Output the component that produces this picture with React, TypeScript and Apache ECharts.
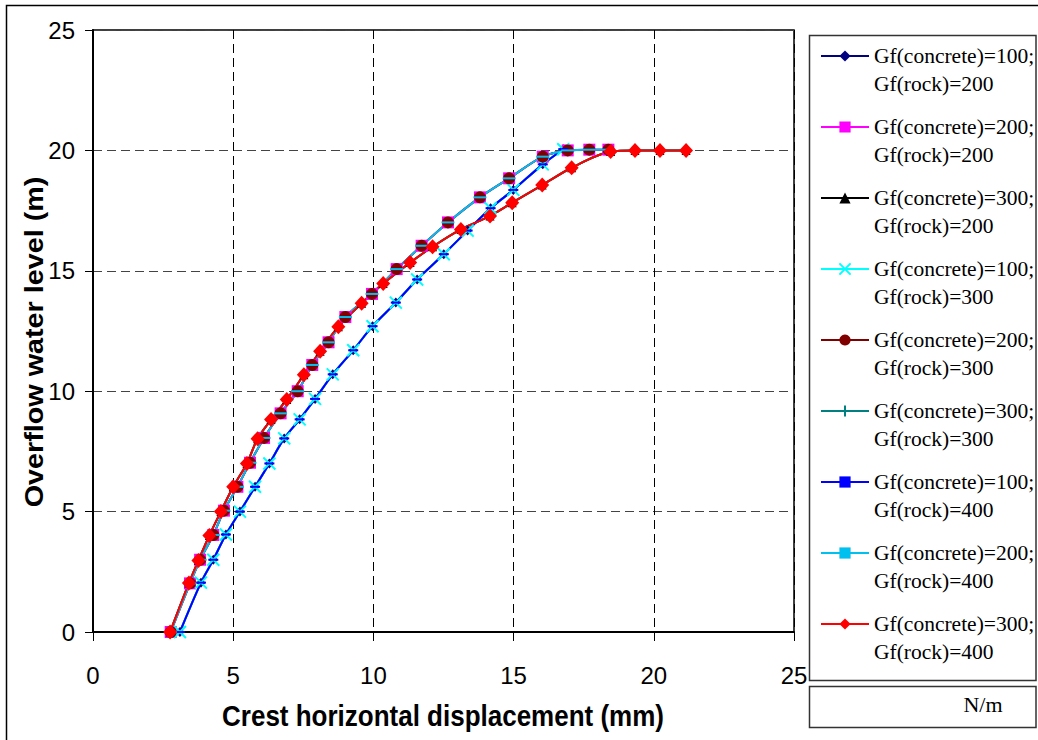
import React, { useEffect, useRef } from "react";
import * as echarts from "echarts";

// Group Gf(concrete)=100 (rock 200 / 300 / 400 curves coincide)
const dispC100 = [3.1, 3.85, 4.29, 4.74, 5.24, 5.78, 6.29, 6.82, 7.37, 7.92, 8.55, 9.28, 9.97, 10.8, 11.56, 12.51, 13.36, 14.18, 14.99, 16.04, 16.77];
const levelC100 = [0, 2.05, 3, 4.05, 5, 6.03, 7, 8.04, 8.83, 9.68, 10.7, 11.7, 12.7, 13.68, 14.64, 15.69, 16.67, 17.6, 18.36, 19.42, 20.05];

// Group Gf(concrete)=200
const dispC200 = [2.77, 3.46, 3.82, 4.29, 4.67, 5.15, 5.6, 6.1, 6.69, 7.3, 7.82, 8.4, 9.0, 9.95, 10.83, 11.72, 12.66, 13.8, 14.84, 16.04, 16.93, 17.7, 18.38];
const levelC200 = [0, 2.02, 3, 4.03, 5.04, 6.03, 7.03, 8.06, 9.08, 10, 11.09, 12.03, 13.08, 14.04, 15.07, 16.04, 17.01, 18.05, 18.84, 19.74, 20, 20.03, 20.03];

// Group Gf(concrete)=300
const dispC300 = [2.75, 3.42, 3.76, 4.15, 4.56, 5.0, 5.49, 5.87, 6.35, 6.91, 7.52, 8.1, 8.75, 9.58, 10.35, 11.31, 12.11, 13.12, 14.16, 14.95, 16.02, 17.07, 18.46, 19.33, 20.22, 21.15];
const levelC300 = [0, 2.03, 2.97, 4.01, 5.0, 6.03, 7.0, 8.03, 8.82, 9.66, 10.68, 11.66, 12.68, 13.65, 14.47, 15.34, 16.0, 16.72, 17.28, 17.83, 18.56, 19.28, 19.95, 20, 20, 20];

const seriesNames = [
  "Gf(concrete)=100; Gf(rock)=200",
  "Gf(concrete)=200; Gf(rock)=200",
  "Gf(concrete)=300; Gf(rock)=200",
  "Gf(concrete)=100; Gf(rock)=300",
  "Gf(concrete)=200; Gf(rock)=300",
  "Gf(concrete)=300; Gf(rock)=300",
  "Gf(concrete)=100; Gf(rock)=400",
  "Gf(concrete)=200; Gf(rock)=400",
  "Gf(concrete)=300; Gf(rock)=400",
];

const axisTicks = [0, 5, 10, 15, 20, 25];

const X_PATH = "path://M0,0L10,10M10,0L0,10";
const PLUS_PATH = "path://M5,0L5,10M0,5L10,5";
const DASH_PATH = "path://M0,0H10V4H0Z";

function pairs(xs: number[], ys: number[]) {
  return xs.map((x, i) => [x, ys[i]]);
}

export default function App() {
  const ref = useRef<HTMLDivElement>(null);

  useEffect(() => {
    if (!ref.current) return;
    const chart = echarts.init(ref.current, null, { renderer: "svg" });

    const styles: any[] = [
      { data: pairs(dispC100, levelC100), color: "#000080", symbol: "diamond", size: [9, 10] },
      { data: pairs(dispC200, levelC200), color: "#FF00FF", symbol: "rect", size: 12 },
      { data: pairs(dispC300, levelC300), color: "#000000", symbol: "triangle", size: 9 },
      { data: pairs(dispC100, levelC100), color: "#00FFFF", symbol: X_PATH, size: 12, stroke: true },
      { data: pairs(dispC200, levelC200), color: "#800000", symbol: "circle", size: 12 },
      { data: pairs(dispC300, levelC300), color: "#008080", symbol: PLUS_PATH, size: 11, stroke: true },
      { data: pairs(dispC100, levelC100), color: "#0000FF", symbol: DASH_PATH, size: [10, 5] },
      { data: pairs(dispC200, levelC200), color: "#00C0F0", symbol: DASH_PATH, size: [13, 5] },
      { data: pairs(dispC300, levelC300), color: "#FF0000", symbol: "diamond", size: [14, 15] },
    ];

    const series = styles.map((s, i) => ({
      type: "line",
      name: seriesNames[i],
      data: s.data,
      smooth: 0.3,
      symbol: s.symbol,
      symbolSize: s.size,
      symbolKeepAspect: true,
      showAllSymbol: true,
      lineStyle: { color: s.color, width: 2 },
      itemStyle: s.stroke
        ? { color: s.color, borderColor: s.color, borderWidth: 2 }
        : { color: s.color, borderWidth: 0 },
      emphasis: { disabled: true },
    }));

    const labelFont = { fontFamily: "Liberation Sans", fontSize: 24, color: "#000" };

    chart.setOption({
      animation: false,
      backgroundColor: "#fff",
      grid: {
        left: 93,
        top: 30,
        right: 244,
        bottom: 108,
        show: true,
        borderColor: "#000",
        borderWidth: 1.5,
        backgroundColor: "transparent",
      },
      xAxis: {
        type: "value",
        min: axisTicks[0],
        max: axisTicks[axisTicks.length - 1],
        interval: 5,
        axisLine: { show: true, onZero: false, lineStyle: { color: "#000", width: 2 } },
        axisTick: { show: true, inside: false, length: 9, lineStyle: { color: "#000", width: 1 } },
        axisLabel: { ...labelFont, margin: 31, showMaxLabel: true, showMinLabel: true },
        splitLine: { show: true, lineStyle: { color: "#000", width: 1, type: [9, 5] } },
      },
      yAxis: {
        type: "value",
        min: axisTicks[0],
        max: axisTicks[axisTicks.length - 1],
        interval: 5,
        axisLine: { show: true, onZero: false, lineStyle: { color: "#000", width: 2 } },
        axisTick: { show: true, inside: false, length: 8, lineStyle: { color: "#000", width: 1 } },
        axisLabel: { ...labelFont, margin: 18 },
        splitLine: { show: true, lineStyle: { color: "#444", width: 1, type: [9, 5] } },
      },
      legend: {
        orient: "vertical",
        left: 820,
        top: 14,
        padding: 0,
        itemWidth: 48,
        itemHeight: 14,
        itemGap: -13,
        selectedMode: false,
        data: seriesNames,
        formatter: (name: string) => "\n" + name.replace("; ", ";\n"),
        textStyle: {
          fontFamily: "Liberation Serif",
          fontSize: 21.5,
          lineHeight: 28,
          color: "#000",
        },
      },
      graphic: [
        {
          type: "rect",
          z: -10,
          shape: { x: 6.5, y: 5.5, width: 1040, height: 740 },
          style: { fill: "none", stroke: "#000", lineWidth: 1.5 },
        },
        {
          type: "rect",
          shape: { x: 809.5, y: 35.5, width: 226.5, height: 645 },
          style: { fill: "none", stroke: "#333", lineWidth: 1.5 },
        },
        {
          type: "rect",
          shape: { x: 809.5, y: 686.5, width: 226.5, height: 41 },
          style: { fill: "none", stroke: "#333", lineWidth: 1.5 },
        },
        {
          type: "text",
          x: 983,
          y: 704,
          style: {
            text: "N/m",
            fontFamily: "Liberation Serif",
            fontSize: 22,
            fill: "#000",
            align: "center",
            verticalAlign: "middle",
          },
        },
        {
          type: "text",
          x: 443,
          y: 716,
          scaleY: 1.12,
          style: {
            text: "Crest horizontal displacement (mm)",
            fontFamily: "Liberation Sans",
            fontSize: 26,
            fontWeight: "bold",
            fill: "#000",
            align: "center",
            verticalAlign: "middle",
          },
        },
        {
          type: "text",
          x: 35,
          y: 342,
          rotation: Math.PI / 2,
          scaleX: 1.15,
          style: {
            text: "Overflow water level (m)",
            fontFamily: "Liberation Sans",
            fontSize: 25,
            fontWeight: "bold",
            fill: "#000",
            align: "center",
            verticalAlign: "middle",
          },
        },
      ],
      series,
    });

    return () => chart.dispose();
  }, []);

  return (
    <div
      ref={ref}
      style={{ position: "fixed", left: 0, top: 0, width: 1038, height: 740, background: "#fff" }}
    />
  );
}
